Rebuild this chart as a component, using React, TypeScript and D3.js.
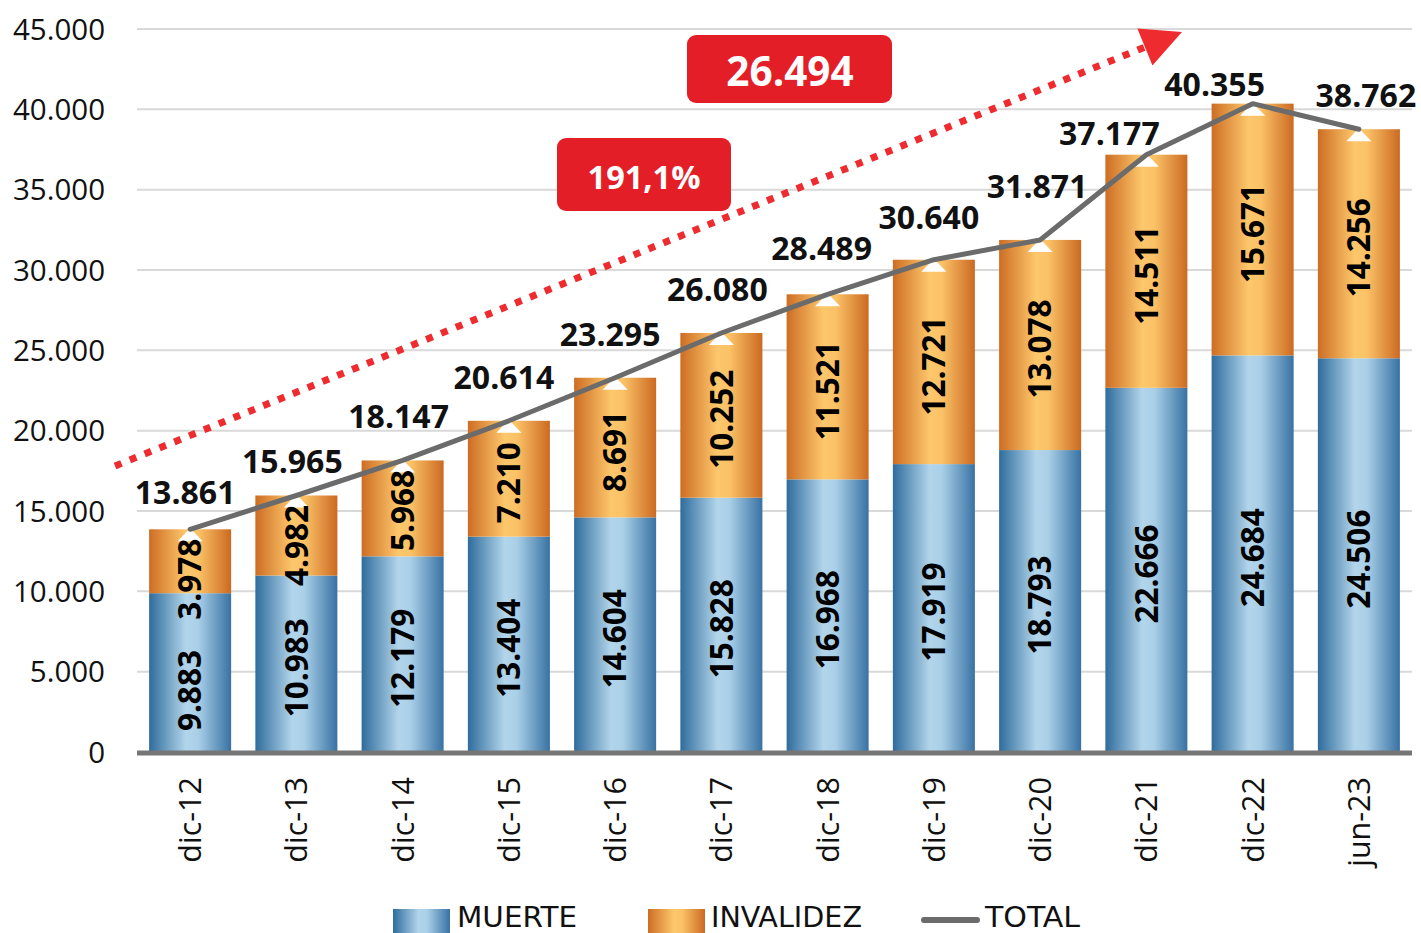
import React from "react";
import * as d3 from "d3";

const categories = ["dic-12","dic-13","dic-14","dic-15","dic-16","dic-17","dic-18","dic-19","dic-20","dic-21","dic-22","jun-23"];
const muerte = [9883,10983,12179,13404,14604,15828,16968,17919,18793,22666,24684,24506];
const invalidez = [3978,4982,5968,7210,8691,10252,11521,12721,13078,14511,15671,14256];
const total = [13861,15965,18147,20614,23295,26080,28489,30640,31871,37177,40355,38762];
const yTicks = [0,5000,10000,15000,20000,25000,30000,35000,40000,45000];
const growthValue = "26.494";
const growthPct = "191,1%";

// layout nudges for labels (px)
const labelNudge: [number, number][] = [
  [-5,-25],[-4,-22],[-4,-32],[-5,-32],[-5,-32],[-4,-32],[-6,-34],[-5,-31],[-3,-42],[-37,-10],[-38,-8],[7,-22]
];
const muerteNudge = [18,4,4,4,4,4,4,4,4,4,4,4];
const invalidezNudge = [18,10,2,4,4,4,4,4,4,4,4,4];

const W = 1421, H = 933;
const left = 137, right = 1412, bottom = 752, top = 29;

const loc = d3.formatLocale({ decimal: ",", thousands: ".", grouping: [3], currency: ["", ""] });
const fmt = loc.format(",d");

export default function App() {
  const x = d3.scaleBand<string>().domain(categories).range([left, right]).paddingInner(0.228).paddingOuter(0.114);
  const y = d3.scaleLinear().domain([0, 45000]).range([bottom, top]);
  const bw = x.bandwidth();
  const step = x.step();
  const cx = (i: number) => (x(categories[i]) as number) + bw / 2;
  const cxF = (i: number) => left + step * (i + 0.5);

  const line = d3.line<number>().x((_, i) => cx(i)).y(d => y(d));

  // arrow annotation in data coordinates
  const ax0 = cxF(-0.707), ay0 = y(17800);
  const ax1 = cxF(9.335), ay1 = y(44813);
  const dx = ax1 - ax0, dy = ay1 - ay0;
  const len = Math.hypot(dx, dy);
  const ux = dx / len, uy = dy / len;
  const headL = 40, headW = 40;
  const bx = ax1 - ux * headL, by = ay1 - uy * headL;
  const px = -uy, py = ux;
  const head = `M${ax1},${ay1} L${bx + px * headW / 2},${by + py * headW / 2} L${bx - px * headW / 2},${by - py * headW / 2} Z`;

  const font = "'Open Sans', sans-serif";
  const legFont = "'Liberation Sans Narrow', 'DejaVu Sans Condensed', sans-serif";

  return (
    <svg width={W} height={H} style={{ position: "absolute", left: 0, top: 0 }} fontFamily={font}>
      <defs>
        <linearGradient id="gBlue" x1="0" x2="1" y1="0" y2="0">
          <stop offset="0" stopColor="#2f6c9c" />
          <stop offset="0.45" stopColor="#b2d5eb" />
          <stop offset="0.6" stopColor="#a9cfe7" />
          <stop offset="1" stopColor="#3872a3" />
        </linearGradient>
        <linearGradient id="gOrange" x1="0" x2="1" y1="0" y2="0">
          <stop offset="0" stopColor="#cd6d24" />
          <stop offset="0.45" stopColor="#fdc76b" />
          <stop offset="0.6" stopColor="#fbc166" />
          <stop offset="1" stopColor="#cb6a22" />
        </linearGradient>
      </defs>
      <rect width={W} height={H} fill="#ffffff" />
      {yTicks.filter(t => t > 0).map(t => (
        <line key={t} x1={left} x2={right} y1={y(t)} y2={y(t)} stroke="#d9d9d9" strokeWidth={2} />
      ))}
      {yTicks.map(t => (
        <text key={t} x={105} y={y(t)} dy="0.36em" textAnchor="end" fontSize={29.5} fill="#111">{fmt(t)}</text>
      ))}
      {categories.map((c, i) => (
        <g key={c}>
          <rect x={x(c)} width={bw} y={y(muerte[i])} height={y(0) - y(muerte[i])} fill="url(#gBlue)" />
          <rect x={x(c)} width={bw} y={y(total[i])} height={y(muerte[i]) - y(total[i])} fill="url(#gOrange)" />
        </g>
      ))}
      <line x1={left} x2={right} y1={y(0) + 1} y2={y(0) + 1} stroke="#767676" strokeWidth={5} />
      {categories.map((c, i) => (
        <path key={c} d={`M${cx(i)},${y(total[i]) - 1} L${cx(i) + 12.5},${y(total[i]) + 12} L${cx(i) - 12.5},${y(total[i]) + 12} Z`} fill="#ffffff" />
      ))}
      {categories.map((c, i) => {
        const ym = (y(0) + y(muerte[i])) / 2 + muerteNudge[i];
        const yi = (y(muerte[i]) + y(total[i])) / 2 + invalidezNudge[i];
        return (
          <g key={c} fontWeight={700} fontSize={31.5} fill="#000">
            <text transform={`translate(${cx(i)},${ym}) rotate(-90)`} textAnchor="middle" dy="0.36em">{fmt(muerte[i])}</text>
            <text transform={`translate(${cx(i)},${yi}) rotate(-90)`} textAnchor="middle" dy="0.36em">{fmt(invalidez[i])}</text>
          </g>
        );
      })}
      <path d={line(total) as string} fill="none" stroke="#6b6b6b" strokeWidth={5} strokeLinejoin="round" strokeLinecap="round" />
      {categories.map((c, i) => (
        <text key={c} x={cx(i) + labelNudge[i][0]} y={y(total[i]) + labelNudge[i][1]} textAnchor="middle" fontWeight={700} fontSize={32} fill="#111">{fmt(total[i])}</text>
      ))}
      <line x1={ax0} y1={ay0} x2={bx} y2={by} stroke="#ee2b2f" strokeWidth={7} strokeDasharray="7 9" />
      <path d={head} fill="#ee2b2f" />
      <rect x={687} y={35} width={205} height={68} rx={9} fill="#e41e26" />
      <text x={790} y={71} dy="0.36em" textAnchor="middle" fill="#fff" fontWeight={700} fontSize={40.5}>{growthValue}</text>
      <rect x={557} y={138} width={174} height={73} rx={9} fill="#e41e26" />
      <text x={644} y={177} dy="0.36em" textAnchor="middle" fill="#fff" fontWeight={700} fontSize={32.5}>{growthPct}</text>
      {categories.map((c, i) => (
        <text key={c} transform={`translate(${cx(i)},${777}) rotate(-90)`} textAnchor="end" dy="0.36em" fontSize={30.5} fill="#111">{c}</text>
      ))}
      <rect x={393} y={909} width={57} height={24} fill="url(#gBlue)" />
      <text x={457} y={927} fontFamily={legFont} fontSize={28} textLength={120} lengthAdjust="spacingAndGlyphs" fill="#111">MUERTE</text>
      <rect x={648} y={909} width={57} height={24} fill="url(#gOrange)" />
      <text x={711} y={927} fontFamily={legFont} fontSize={28} textLength={151} lengthAdjust="spacingAndGlyphs" fill="#111">INVALIDEZ</text>
      <line x1={924} x2={977} y1={920} y2={920} stroke="#6b6b6b" strokeWidth={6} strokeLinecap="round" />
      <text x={985} y={927} fontFamily={legFont} fontSize={28} textLength={95} lengthAdjust="spacingAndGlyphs" fill="#111">TOTAL</text>
    </svg>
  );
}
